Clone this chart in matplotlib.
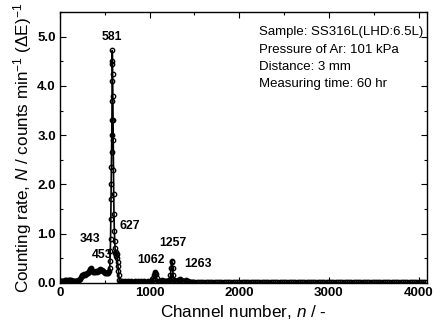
import matplotlib
matplotlib.use("Agg")
import matplotlib.pyplot as plt
from matplotlib.ticker import MultipleLocator, FormatStrFormatter

plt.rcParams['font.family'] = ['Liberation Sans', 'DejaVu Sans']
plt.rcParams['mathtext.fontset'] = 'custom'
plt.rcParams['mathtext.rm'] = 'Liberation Sans'
plt.rcParams['mathtext.it'] = 'Liberation Sans:italic'

# Spectrum data (channel, counting rate)
channel = [
    0, 10, 20, 30, 40, 50, 60, 70, 80, 90, 100, 110, 120, 130, 140, 150, 160,
    170, 180, 190, 200, 210, 220,
    230, 240, 250, 260, 270, 280, 290, 300, 310, 320, 330, 340, 350, 360, 370,
    380, 390, 400, 410, 420, 430, 440, 450, 460, 470, 480, 490, 500, 510, 520,
    530, 540, 550,
    555, 558, 561, 564, 567, 569, 571, 573, 575, 577, 579, 580, 581, 582,
    583, 585, 587, 589, 591, 593, 596, 599, 602, 606, 610, 614, 618, 622,
    627, 632, 637, 642, 647, 652, 656, 660, 665,
    677, 689, 701, 713, 725, 737, 749, 761, 773, 785, 797, 809, 821, 833, 845,
    857, 869, 881, 893, 905, 917, 929, 941, 953, 965, 977, 989, 1001, 1013, 1025,
    1032, 1040, 1048, 1055, 1062, 1070, 1078, 1088,
    1100, 1112, 1124, 1136, 1148, 1160, 1172, 1184, 1196, 1208, 1220,
    1226, 1232, 1238, 1244, 1250, 1256, 1262, 1270, 1280,
    1292, 1304, 1316, 1328, 1340, 1352, 1364, 1376, 1388, 1400, 1412, 1424,
    1436, 1448, 1460, 1472, 1484, 1500,
    1525, 1550, 1575, 1600, 1625, 1650, 1675, 1700, 1725, 1750, 1775, 1800,
    1825, 1850, 1875, 1900, 1925, 1950, 1975, 2000, 2025, 2050, 2075, 2100,
    2125, 2150, 2175, 2200, 2225, 2250, 2275, 2300, 2325, 2350, 2375, 2400,
    2425, 2450, 2475, 2500, 2525, 2550, 2575, 2600, 2625, 2650, 2675, 2700,
    2725, 2750, 2775, 2800, 2825, 2850, 2875, 2900, 2925, 2950, 2975, 3000,
    3025, 3050, 3075, 3100, 3125, 3150, 3175, 3200, 3225, 3250, 3275, 3300,
    3325, 3350, 3375, 3400, 3425, 3450, 3475, 3500, 3525, 3550, 3575, 3600,
    3625, 3650, 3675, 3700, 3725, 3750, 3775, 3800, 3825, 3850, 3875, 3900,
    3925, 3950, 3975, 4000, 4025, 4050, 4075,
]
rate = [
    0.03, 0.04, 0.04, 0.03, 0.03, 0.04, 0.05, 0.05, 0.04, 0.05, 0.06, 0.06,
    0.05, 0.04, 0.04, 0.03, 0.03, 0.03, 0.04, 0.04, 0.05, 0.06, 0.08,
    0.11, 0.13, 0.15, 0.16, 0.17, 0.16, 0.18, 0.20, 0.21, 0.24, 0.28, 0.31,
    0.29, 0.25, 0.23, 0.22, 0.23, 0.24, 0.23, 0.24, 0.25, 0.27, 0.28, 0.27,
    0.26, 0.24, 0.22, 0.21, 0.21, 0.20, 0.21, 0.22, 0.25,
    0.30, 0.45, 0.65, 0.90, 1.30, 1.70, 2.00, 2.35, 2.65, 3.00, 3.30, 3.70, 4.10, 4.45,
    4.72, 4.50, 4.25, 3.80, 3.30, 2.90, 2.30, 1.80, 1.40, 1.05, 0.85, 0.70, 0.60, 0.55,
    0.62, 0.58, 0.50, 0.42, 0.35, 0.25, 0.15, 0.06, 0.02,
    0.02, 0.03, 0.02, 0.02, 0.03, 0.02, 0.02, 0.03, 0.02, 0.02, 0.03, 0.02,
    0.02, 0.03, 0.02, 0.02, 0.03, 0.02, 0.02, 0.03, 0.02, 0.02, 0.03, 0.02,
    0.02, 0.03, 0.02, 0.02, 0.03, 0.03,
    0.05, 0.09, 0.15, 0.20, 0.22, 0.18, 0.10, 0.04,
    0.02, 0.03, 0.04, 0.05, 0.04, 0.03, 0.03, 0.04, 0.03, 0.04, 0.05,
    0.06, 0.15, 0.30, 0.44, 0.42, 0.30, 0.15, 0.06, 0.03,
    0.03, 0.04, 0.05, 0.06, 0.07, 0.05, 0.04, 0.03, 0.04, 0.05, 0.04, 0.03,
    0.02, 0.02, 0.02, 0.01, 0.01, 0.01,
    0.01, 0.01, 0.02, 0.01, 0.01, 0.01, 0.02, 0.01, 0.01, 0.01, 0.01, 0.02,
    0.01, 0.01, 0.01, 0.01, 0.02, 0.01, 0.01, 0.01, 0.01, 0.01, 0.02, 0.01,
    0.01, 0.01, 0.01, 0.01, 0.01, 0.02, 0.01, 0.01, 0.01, 0.01, 0.01, 0.01,
    0.01, 0.02, 0.01, 0.01, 0.01, 0.01, 0.01, 0.01, 0.01, 0.02, 0.01, 0.01,
    0.01, 0.01, 0.01, 0.01, 0.01, 0.01, 0.01, 0.01, 0.01, 0.01, 0.01, 0.01,
    0.01, 0.01, 0.01, 0.01, 0.01, 0.01, 0.01, 0.01, 0.01, 0.01, 0.01, 0.01,
    0.01, 0.01, 0.01, 0.01, 0.01, 0.01, 0.01, 0.01, 0.01, 0.01, 0.01, 0.01,
    0.01, 0.01, 0.01, 0.01, 0.01, 0.01, 0.01, 0.01, 0.01, 0.01, 0.01, 0.01,
    0.01, 0.01, 0.01, 0.01, 0.01, 0.01, 0.01,
]
assert len(channel) == len(rate)

peak_labels = ["581", "343", "453", "627", "1062", "1257", "1263"]
peak_label_x = [581, 333, 467, 778, 1011, 1256, 1544]
peak_label_y = [5.0, 0.89, 0.57, 1.16, 0.47, 0.81, 0.39]

info_lines = [
    "Sample: SS316L(LHD:6.5L)",
    "Pressure of Ar: 101 kPa",
    "Distance: 3 mm",
    "Measuring time: 60 hr",
]

fig = plt.figure(figsize=(4.35, 3.27), dpi=100)
ax = fig.add_axes([0.138, 0.135, 0.844, 0.828])

ax.plot(channel, rate, color='black', lw=1.2, marker='o', markersize=3.2,
        markerfacecolor='none', markeredgecolor='black', markeredgewidth=0.95)

for t, x, y in zip(peak_labels, peak_label_x, peak_label_y):
    ax.text(x, y, t, ha='center', va='center', fontsize=8.8, fontweight='bold')

for i, line in enumerate(info_lines):
    ax.text(0.543, 0.925 - i * 0.064, line, transform=ax.transAxes,
            ha='left', va='center', fontsize=9.5)

ax.set_xlim(0, 4096)
ax.set_ylim(0, 5.5)
ax.xaxis.set_major_locator(MultipleLocator(1000))
ax.xaxis.set_minor_locator(MultipleLocator(500))
ax.yaxis.set_major_locator(MultipleLocator(1.0))
ax.yaxis.set_minor_locator(MultipleLocator(0.5))
ax.yaxis.set_major_formatter(FormatStrFormatter('%.1f'))
ax.tick_params(which='both', direction='in', top=True, right=True, width=0.8)
ax.tick_params(which='major', length=4.5, labelsize=9.5, pad=3)
ax.tick_params(which='minor', length=2.5)
for lbl in ax.get_xticklabels() + ax.get_yticklabels():
    lbl.set_fontweight('bold')
for s in ax.spines.values():
    s.set_linewidth(1.0)

ax.set_xlabel(r"Channel number, $\it{n}$ / -", fontsize=12.3, labelpad=3)
ax.set_ylabel(r"Counting rate, $\it{N}$ / counts min$^{-1}$ ($\Delta$E)$^{-1}$",
              fontsize=12.3, labelpad=2)

fig.savefig("out.png", dpi=100)
